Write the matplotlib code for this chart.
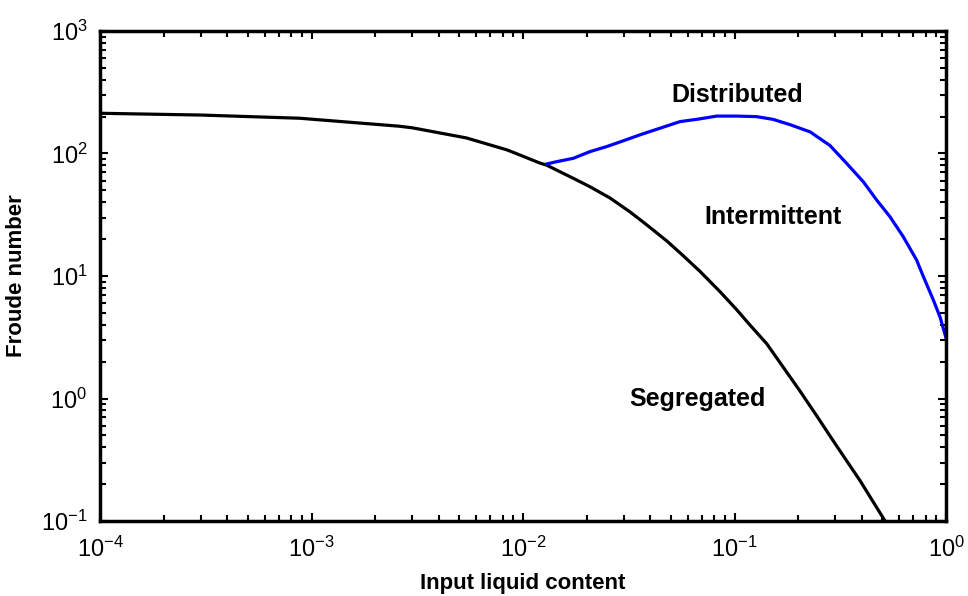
import numpy as np
import matplotlib
matplotlib.use("Agg")
import matplotlib.pyplot as plt
from matplotlib.ticker import LogLocator, NullFormatter

plt.rcParams['font.family'] = ['Liberation Sans', 'DejaVu Sans']
plt.rcParams['mathtext.fontset'] = 'custom'
plt.rcParams['mathtext.rm'] = 'Liberation Sans'

# segregated / intermittent boundary (black)
seg_x = [1e-4, 3.0e-4, 8.8e-4, 2.6e-3, 3.0e-3, 5.4e-3, 8.4e-3, 9.7e-3,
         0.012, 0.0129, 0.0172, 0.0207, 0.0258, 0.0321, 0.0384, 0.0479,
         0.0573, 0.0687, 0.0853, 0.102, 0.118, 0.142, 0.170, 0.204,
         0.245, 0.292, 0.339, 0.392, 0.438, 0.515]
seg_y = [213, 206, 194, 167, 162, 134, 107, 97,
         83.6, 80.5, 63, 53.6, 43.3, 33.3, 26.2, 19.3,
         14.6, 10.9, 7.46, 5.35, 4.0, 2.8, 1.8, 1.15,
         0.72, 0.455, 0.31, 0.214, 0.157, 0.1]

# intermittent / distributed boundary (blue)
dis_x = [0.0129, 0.0144, 0.0173, 0.0207, 0.0249, 0.0298, 0.0357, 0.0445,
         0.0552, 0.0675, 0.0824, 0.102, 0.127, 0.152, 0.183, 0.228,
         0.283, 0.339, 0.406, 0.470, 0.543, 0.628, 0.726, 0.782,
         0.871, 0.938, 1.0]
dis_y = [82, 85.7, 91.4, 103.5, 114, 127, 142, 161,
         182, 191, 202, 202, 200, 190, 172, 150,
         116, 83, 58.9, 41.7, 30.5, 20.9, 13.5, 9.86,
         6.37, 4.6, 3.12]

regions = ["Distributed", "Intermittent", "Segregated"]
region_x = [0.103, 0.152, 0.0665]
region_y = [300, 30.3, 1.0]

fig = plt.figure(figsize=(9.68, 5.96), dpi=100)
ax = fig.add_axes([0.1033, 0.1258, 0.874, 0.8222])

ax.plot(seg_x, seg_y, color='black', lw=2.3)
ax.plot(dis_x, dis_y, color='#0000ff', lw=2.3)

for name, x, y in zip(regions, region_x, region_y):
    ax.text(x, y, name, fontsize=18, fontweight='bold', ha='center', va='center')

ax.set_xscale('log')
ax.set_yscale('log')
ax.set_xlim(1e-4, 1)
ax.set_ylim(0.1, 1000)

ax.xaxis.set_major_locator(LogLocator(base=10, numticks=10))
ax.yaxis.set_major_locator(LogLocator(base=10, numticks=10))
ax.xaxis.set_minor_locator(LogLocator(base=10, subs=np.arange(2, 10), numticks=20))
ax.yaxis.set_minor_locator(LogLocator(base=10, subs=np.arange(2, 10), numticks=20))
ax.xaxis.set_minor_formatter(NullFormatter())
ax.yaxis.set_minor_formatter(NullFormatter())

ax.tick_params(which='both', direction='in', top=True, right=True, labelsize=17, width=1.5)
ax.tick_params(which='major', length=6)
ax.tick_params(axis='x', which='major', pad=11)
ax.tick_params(axis='y', which='major', pad=9)
ax.tick_params(which='minor', length=4)

for s in ax.spines.values():
    s.set_linewidth(2.5)

ax.set_xlabel("Input liquid content", fontsize=16, fontweight='bold', labelpad=8)
ax.set_ylabel("Froude number", fontsize=16, fontweight='bold', labelpad=10)

plt.savefig('out.png', dpi=100)
plt.close()
